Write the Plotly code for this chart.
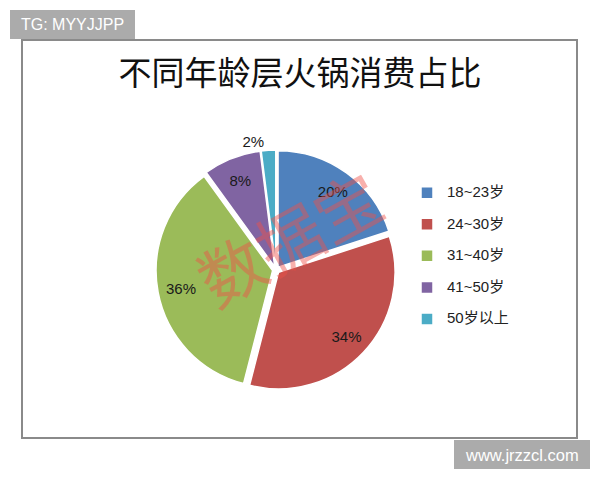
import plotly.graph_objects as go

labels = ["18~23岁", "24~30岁", "31~40岁", "41~50岁", "50岁以上"]
values = [20, 34, 36, 8, 2]
colors = ["#4F81BD", "#C0504D", "#9BBB59", "#8064A2", "#4BACC6"]
text_pos = ["inside", "inside", "inside", "inside", "outside"]
pulls = [0.03, 0.03, 0.03, 0.03, 0.03]

W, H = 600, 480
OFF = 8  # page body margin


def px(x):
    return (x - OFF) / W


def py(y):
    return 1 - (y - OFF) / H


pie_domain = dict(x=[px(156), px(396)], y=[py(391), py(149)])

fig = go.Figure()
# coloured pie
fig.add_trace(go.Pie(
    labels=["<span style='font-size:15px'>" + l + "</span><br>&nbsp;" for l in labels],
    values=values,
    sort=False,
    direction="clockwise",
    rotation=0,
    pull=pulls,
    marker=dict(colors=colors, line=dict(color="white", width=1.5)),
    textinfo="none",
    domain=pie_domain,
    hoverinfo="skip",
))
# transparent ring carrying the percentage labels
fig.add_trace(go.Pie(
    labels=labels,
    values=values,
    sort=False,
    direction="clockwise",
    rotation=0,
    pull=pulls,
    hole=0.6,
    marker=dict(colors=["rgba(0,0,0,0)"] * len(values), line=dict(width=0)),
    texttemplate="%{value}%",
    textposition=text_pos,
    insidetextorientation="horizontal",
    textfont=dict(family="Liberation Sans, Noto Sans CJK SC", size=15, color="#1a1a1a"),
    domain=pie_domain,
    showlegend=False,
    hoverinfo="skip",
))

fig.update_layout(
    width=W, height=H,
    margin=dict(l=0, r=0, t=0, b=0),
    paper_bgcolor="white",
    plot_bgcolor="white",
    showlegend=True,
    legend=dict(
        x=px(407), y=py(179), xanchor="left", yanchor="top",
        font=dict(family="Liberation Sans, Noto Sans CJK SC", size=11, color="#222"),
        valign="top",
        bgcolor="rgba(0,0,0,0)",
    ),
    title=dict(
        text="不同年龄层火锅消费占比",
        x=px(300), xanchor="center", y=py(73), yanchor="middle",
        font=dict(family="Noto Sans CJK SC", size=33, color="#111"),
    ),
    shapes=[
        dict(type="rect", xref="paper", yref="paper",
             x0=px(22), x1=px(577), y0=py(438), y1=py(40),
             line=dict(color="#8a8a8a", width=2), fillcolor="rgba(0,0,0,0)"),
        dict(type="rect", xref="paper", yref="paper",
             x0=px(10), x1=px(135), y0=py(39), y1=py(10),
             line=dict(width=0), fillcolor="#ABABAB"),
        dict(type="rect", xref="paper", yref="paper",
             x0=px(454), x1=px(590), y0=py(469), y1=py(440),
             line=dict(width=0), fillcolor="#ABABAB"),
    ],
    annotations=[
        dict(text="TG: MYYJJPP", xref="paper", yref="paper",
             x=px(72), y=py(25), xanchor="center", yanchor="middle", showarrow=False,
             font=dict(family="Liberation Sans", size=16, color="white")),
        dict(text="www.jrzzcl.com", xref="paper", yref="paper",
             x=px(522), y=py(455), xanchor="center", yanchor="middle", showarrow=False,
             font=dict(family="Liberation Sans", size=16.5, color="white")),
        dict(text="数据宝", xref="paper", yref="paper",
             x=px(288), y=py(236), xanchor="center", yanchor="middle", showarrow=False,
             textangle=-29,
             font=dict(family="Noto Sans CJK SC", size=66, color="rgba(240,80,70,0.45)")),
    ],
)

fig.write_html("out.html")
